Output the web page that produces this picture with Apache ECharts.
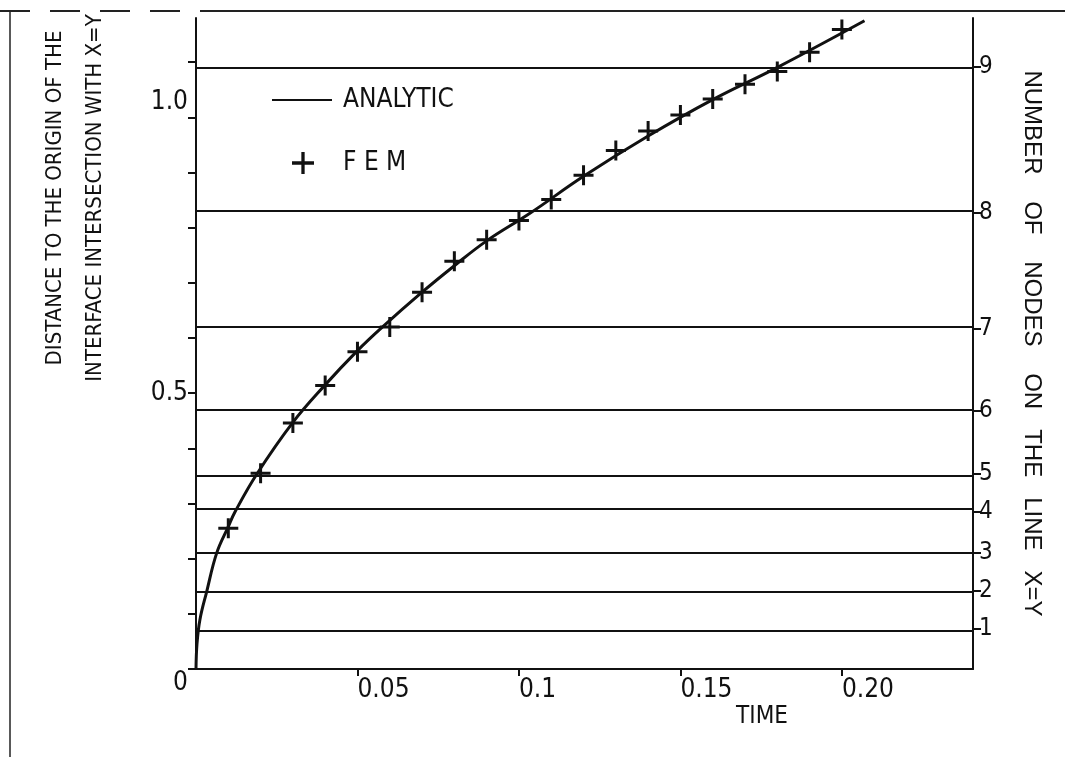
<!DOCTYPE html>
<html>
<head>
<meta charset="utf-8">
<script src="https://cdn.jsdelivr.net/npm/echarts@6/dist/echarts.min.js"></script>
<style>
  html, body { margin: 0; padding: 0; background: #fff; }
  #chart { width: 1065px; height: 757px; }
</style>
</head>
<body>
<div id="chart"></div>
<script>
// FEM points
var femTime = [0.01, 0.02, 0.03, 0.04, 0.05, 0.06, 0.07, 0.08, 0.09, 0.10,
               0.11, 0.12, 0.13, 0.14, 0.15, 0.16, 0.17, 0.18, 0.19, 0.20]
var femDist = [0.255, 0.355, 0.446, 0.514, 0.575, 0.620, 0.683, 0.739, 0.778, 0.813,
               0.851, 0.895, 0.940, 0.975, 1.004, 1.033, 1.060, 1.083, 1.118, 1.159]

// analytic curve, traced
var analyticTime = [0, 0.0003, 0.0012, 0.0033, 0.0064, 0.01, 0.0121, 0.0188, 0.03, 0.04,
                    0.05, 0.057, 0.07, 0.08, 0.09, 0.1034, 0.12, 0.14, 0.16, 0.1802, 0.207]
var analyticDist = [0, 0.045, 0.089, 0.140, 0.210, 0.258, 0.285, 0.353, 0.447, 0.515,
                    0.577, 0.616, 0.683, 0.731, 0.776, 0.826, 0.893, 0.966, 1.032, 1.091, 1.175]

// horizontal lines = number of nodes on the line x=y
var nodeLevels = [0.0734, 0.1413, 0.210, 0.2853, 0.3533, 0.4683, 0.6159, 0.8266, 1.0915]
var nodeLabels = ['1', '2', '3', '4', '5', '6', '7', '8', '9']

var timeTicks = [0.05, 0.1, 0.15, 0.2]
var timeTickLabels = ['0.05', '0.1', '0.15', '0.20']
var distTicks = [0, 0.1, 0.2, 0.3, 0.4, 0.5, 0.6, 0.7, 0.8, 0.9, 1.0, 1.1]
var distLabelValues = [0, 0.5, 1.0]
var distLabels = ['0', '0.5', '1.0']

var narrow = "'Liberation Sans Narrow', 'DejaVu Sans Condensed', 'Liberation Sans', sans-serif"
var ink = '#111'

var chart = echarts.init(document.getElementById('chart'))

var femData = femTime.map(function (t, i) { return [t, femDist[i]] })
var analyticData = analyticTime.map(function (t, i) { return [t, analyticDist[i]] })
var plusPath = 'path://M8.5,0h3v8.5h8.5v3h-8.5v8.5h-3v-8.5h-8.5v-3h8.5z'

var option = {
  backgroundColor: '#fff',
  animation: false,
  grid: { left: 196, right: 92, top: 18, bottom: 88 },
  legend: [
    {
      data: [{ name: 'ANALYTIC', icon: 'rect' }],
      left: 272, top: 87, padding: 0,
      itemWidth: 60, itemHeight: 2,
      textStyle: { fontFamily: narrow, fontSize: 26, color: ink, lineHeight: 26, padding: [0, 0, 0, 6] }
    },
    {
      data: [{ name: 'FEM', icon: plusPath }],
      left: 292, top: 150, padding: 0,
      itemWidth: 22, itemHeight: 22,
      formatter: function () { return 'F E M' },
      textStyle: { fontFamily: narrow, fontSize: 26, color: ink, lineHeight: 26, padding: [0, 0, 0, 24] }
    }
  ],
  xAxis: {
    type: 'value', min: 0, max: 0.2406,
    splitLine: { show: false },
    axisLine: { lineStyle: { color: ink, width: 2 } },
    axisTick: { customValues: timeTicks, length: 7, lineStyle: { color: ink, width: 2 } },
    axisLabel: {
      customValues: timeTicks, align: 'left', margin: 8,
      fontFamily: narrow, fontSize: 26, color: ink,
      formatter: function (v) { return timeTickLabels[timeTicks.indexOf(v)] }
    }
  },
  yAxis: [
    {
      type: 'value', min: 0, max: 1.18, position: 'left',
      splitLine: { show: false },
      axisLine: { show: true, lineStyle: { color: ink, width: 2 } },
      axisTick: { show: true, customValues: distTicks, length: 8, lineStyle: { color: ink, width: 2 } },
      axisLabel: {
        customValues: distLabelValues, margin: 8,
        fontFamily: narrow, fontSize: 26, color: ink,
        formatter: function (v) {
          var s = distLabels[distLabelValues.indexOf(v)]
          if (v === 1) return '{up|' + s + '}'
          if (v === 0) return '{down|' + s + '}'
          return s
        },
        rich: {
          up: { fontFamily: narrow, fontSize: 26, color: ink, padding: [0, 0, 30, 0] },
          down: { fontFamily: narrow, fontSize: 26, color: ink, padding: [28, 0, 0, 0] }
        }
      }
    },
    {
      type: 'value', min: 0, max: 1.18, position: 'right',
      splitLine: { show: false },
      axisLine: { show: true, lineStyle: { color: ink, width: 2 } },
      axisTick: { show: true, customValues: nodeLevels, length: 8, lineStyle: { color: ink, width: 2 } },
      axisLabel: {
        customValues: nodeLevels, margin: 6,
        fontFamily: narrow, fontSize: 24, color: ink,
        formatter: function (v) { return nodeLabels[nodeLevels.indexOf(v)] }
      },
      name: 'NUMBER    OF    NODES    ON   THE   LINE   X=Y',
      nameLocation: 'middle', nameRotate: -90, nameGap: 47,
      nameTextStyle: { fontFamily: "'Liberation Sans', sans-serif", fontSize: 24, color: ink }
    }
  ],
  graphic: [
    {
      type: 'text', x: 75, y: 198, rotation: Math.PI / 2,
      style: {
        text: 'DISTANCE TO THE ORIGIN OF THE\nINTERFACE INTERSECTION WITH X=Y',
        fontFamily: narrow, fontSize: 22, lineHeight: 40, fill: ink,
        align: 'center', verticalAlign: 'middle'
      }
    },
    {
      type: 'text', x: 762, y: 717,
      style: { text: 'TIME', fontFamily: narrow, fontSize: 24, fill: ink, align: 'center', verticalAlign: 'middle' }
    },
    // edge of the scanned page
    { type: 'line', shape: { x1: 10, y1: 11, x2: 10, y2: 757 }, style: { stroke: '#222', lineWidth: 1.5 } },
    { type: 'line', shape: { x1: 0, y1: 11, x2: 230, y2: 11 }, style: { stroke: '#222', lineWidth: 2, lineDash: [30, 20] } },
    { type: 'line', shape: { x1: 230, y1: 11, x2: 1065, y2: 11 }, style: { stroke: '#222', lineWidth: 2 } }
  ],
  series: [
    {
      name: 'ANALYTIC',
      type: 'line',
      data: analyticData,
      smooth: 0.4,
      symbol: 'none',
      lineStyle: { color: ink, width: 3 },
      itemStyle: { color: ink },
      markLine: {
        silent: true,
        symbol: 'none',
        label: { show: false },
        lineStyle: { color: ink, width: 2, type: 'solid' },
        data: nodeLevels.map(function (v) { return { yAxis: v } })
      },
      z: 3
    },
    {
      name: 'FEM',
      type: 'scatter',
      data: femData,
      symbol: plusPath,
      symbolSize: 20,
      itemStyle: { color: ink, opacity: 1 },
      z: 4
    }
  ]
}

chart.setOption(option)
</script>
</body>
</html>
